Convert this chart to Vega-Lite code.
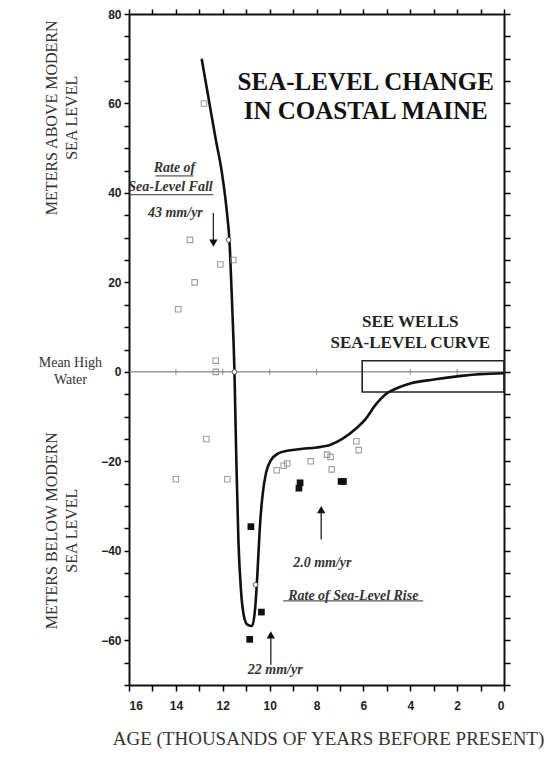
{
  "$schema": "https://vega.github.io/schema/vega-lite/v6.json",
  "width": 375,
  "height": 671,
  "autosize": "none",
  "padding": {"left": 129, "top": 14, "right": 44, "bottom": 74},
  "background": "white",
  "config": {
    "view": {"stroke": null},
    "axis": {
      "grid": false,
      "ticks": true,
      "domainColor": "#111",
      "domainWidth": 2,
      "tickColor": "#000",
      "tickWidth": 1.5,
      "tickOpacity": 1,
      "labelFont": "Liberation Sans",
      "labelFontWeight": "bold",
      "labelFontSize": 12,
      "labelColor": "#222"
    },
    "text": {"font": "Liberation Serif"}
  },
  "datasets": {
    "curve": [
      {"age": 12.9, "level": 70}, {"age": 12.6, "level": 61}, {"age": 12.3, "level": 52},
      {"age": 12.05, "level": 45}, {"age": 11.85, "level": 37}, {"age": 11.7, "level": 28},
      {"age": 11.6, "level": 15}, {"age": 11.5, "level": 0}, {"age": 11.42, "level": -20},
      {"age": 11.33, "level": -38}, {"age": 11.22, "level": -49}, {"age": 11.1, "level": -54.5},
      {"age": 10.95, "level": -56.5}, {"age": 10.75, "level": -56.8}, {"age": 10.62, "level": -53},
      {"age": 10.52, "level": -45}, {"age": 10.42, "level": -35}, {"age": 10.3, "level": -27.5},
      {"age": 10.15, "level": -22.5}, {"age": 9.95, "level": -19.8}, {"age": 9.65, "level": -18.3},
      {"age": 9.2, "level": -17.6}, {"age": 8.6, "level": -17.2}, {"age": 8.0, "level": -16.9},
      {"age": 7.4, "level": -16.3}, {"age": 6.9, "level": -15}, {"age": 6.3, "level": -12.6},
      {"age": 5.9, "level": -10.5}, {"age": 5.5, "level": -7.5}, {"age": 5.05, "level": -5},
      {"age": 4.5, "level": -3.5}, {"age": 4.0, "level": -2.6}, {"age": 3.0, "level": -1.7},
      {"age": 2.0, "level": -1.0}, {"age": 1.0, "level": -0.5}, {"age": 0, "level": -0.3}
    ],
    "open": [
      {"age": 12.8, "level": 60}, {"age": 13.4, "level": 29.5}, {"age": 12.1, "level": 24},
      {"age": 11.55, "level": 25}, {"age": 13.2, "level": 20}, {"age": 13.9, "level": 14},
      {"age": 12.3, "level": 2.5}, {"age": 12.3, "level": 0}, {"age": 12.7, "level": -15},
      {"age": 14.0, "level": -24}, {"age": 11.8, "level": -24}, {"age": 9.7, "level": -22},
      {"age": 9.4, "level": -21}, {"age": 9.25, "level": -20.5}, {"age": 8.25, "level": -20},
      {"age": 7.55, "level": -18.5}, {"age": 7.4, "level": -19}, {"age": 7.35, "level": -21.8},
      {"age": 6.3, "level": -15.5}, {"age": 6.2, "level": -17.5}
    ],
    "filled": [
      {"age": 10.8, "level": -34.6}, {"age": 10.35, "level": -53.7}, {"age": 10.85, "level": -59.8},
      {"age": 8.75, "level": -26}, {"age": 8.7, "level": -24.8}, {"age": 6.95, "level": -24.5},
      {"age": 6.85, "level": -24.5}
    ],
    "circles": [
      {"age": 11.75, "level": 29.5}, {"age": 11.5, "level": 0}, {"age": 10.6, "level": -47.6}
    ]
  },
  "resolve": {"axis": {"x": "independent", "y": "independent"}},
  "layer": [
    {
      "data": {"values": [{"level": 0}]},
      "mark": {"type": "rule", "color": "#666", "strokeWidth": 1},
      "encoding": {
        "y": {"field": "level", "type": "quantitative", "scale": {"domain": [-70, 80], "nice": false, "zero": false}, "axis": null}
      }
    },
    {
      "data": {"values": [{"age": 2, "level": 0}, {"age": 4, "level": 0}, {"age": 8, "level": 0}, {"age": 10, "level": 0}, {"age": 12, "level": 0}, {"age": 14, "level": 0}]},
      "mark": {"type": "tick", "orient": "vertical", "size": 6, "thickness": 1, "color": "#666"},
      "encoding": {
        "x": {"field": "age", "type": "quantitative", "scale": {"domain": [0, 16], "reverse": true, "nice": false, "zero": false}, "axis": null},
        "y": {"field": "level", "type": "quantitative", "scale": {"domain": [-70, 80], "nice": false, "zero": false}, "axis": null}
      }
    },
    {
      "data": {"values": [{"age": 6.05, "age2": 0, "level": 2.5, "level2": -4.5}]},
      "mark": {"type": "rect", "fill": null, "stroke": "#222", "strokeWidth": 1.6},
      "encoding": {
        "x": {"field": "age", "type": "quantitative", "scale": {"domain": [0, 16], "reverse": true, "nice": false, "zero": false}, "axis": null},
        "x2": {"field": "age2"},
        "y": {"field": "level", "type": "quantitative", "scale": {"domain": [-70, 80], "nice": false, "zero": false}, "axis": null},
        "y2": {"field": "level2"}
      }
    },
    {
      "data": {"name": "curve"},
      "mark": {"type": "line", "color": "#111", "strokeWidth": 2.6, "interpolate": "monotone"},
      "encoding": {
        "x": {
          "field": "age", "type": "quantitative",
          "scale": {"domain": [0, 16], "reverse": true, "nice": false, "zero": false},
          "axis": {
            "orient": "bottom",
            "ticks": true,
            "tickCount": 17,
            "values": [0, 1, 2, 3, 4, 5, 6, 7, 8, 9, 10, 11, 12, 13, 14, 15, 16],
            "labelExpr": "datum.value % 2 == 0 ? datum.label : ''",
            "tickSize": 6,
            "labelPadding": 9,
            "title": "AGE (THOUSANDS OF YEARS BEFORE PRESENT)",
            "titleFont": "Liberation Serif",
            "titleFontWeight": "normal",
            "titleFontSize": 19,
            "titleColor": "#333",
            "titlePadding": 18,
            "titleX": 199
          }
        },
        "y": {
          "field": "level", "type": "quantitative",
          "scale": {"domain": [-70, 80], "nice": false, "zero": false},
          "axis": {
            "orient": "left",
            "ticks": true,
            "values": [-70, -65, -60, -55, -50, -45, -40, -35, -30, -25, -20, -15, -10, -5, 0, 5, 10, 15, 20, 25, 30, 35, 40, 45, 50, 55, 60, 65, 70, 75, 80],
            "labelExpr": "datum.value % 20 == 0 ? datum.label : ''",
            "tickSize": 5,
            "labelPadding": 3,
            "title": null
          }
        }
      }
    },
    {
      "data": {"name": "open"},
      "mark": {"type": "point", "shape": "square", "filled": false, "color": "#777", "size": 30, "strokeWidth": 1.1},
      "encoding": {
        "x": {
          "field": "age", "type": "quantitative",
          "scale": {"domain": [0, 16], "reverse": true, "nice": false, "zero": false},
          "axis": {"orient": "top", "ticks": true, "values": [0, 1, 2, 3, 4, 5, 6, 7, 8, 9, 10, 11, 12, 13, 14, 15, 16], "labels": false, "tickSize": 5, "title": null}
        },
        "y": {
          "field": "level", "type": "quantitative",
          "scale": {"domain": [-70, 80], "nice": false, "zero": false},
          "axis": {"orient": "right", "ticks": true, "values": [-70, -65, -60, -55, -50, -45, -40, -35, -30, -25, -20, -15, -10, -5, 0, 5, 10, 15, 20, 25, 30, 35, 40, 45, 50, 55, 60, 65, 70, 75, 80], "labels": false, "tickSize": 6, "title": null}
        }
      }
    },
    {
      "data": {"name": "filled"},
      "mark": {"type": "point", "shape": "square", "filled": true, "color": "#111", "size": 45, "opacity": 1},
      "encoding": {
        "x": {"field": "age", "type": "quantitative", "scale": {"domain": [0, 16], "reverse": true, "nice": false, "zero": false}, "axis": null},
        "y": {"field": "level", "type": "quantitative", "scale": {"domain": [-70, 80], "nice": false, "zero": false}, "axis": null}
      }
    },
    {
      "data": {"name": "circles"},
      "mark": {"type": "point", "shape": "circle", "filled": true, "fill": "white", "stroke": "#555", "strokeWidth": 1, "size": 22, "opacity": 1},
      "encoding": {
        "x": {"field": "age", "type": "quantitative", "scale": {"domain": [0, 16], "reverse": true, "nice": false, "zero": false}, "axis": null},
        "y": {"field": "level", "type": "quantitative", "scale": {"domain": [-70, 80], "nice": false, "zero": false}, "axis": null}
      }
    },
    {
      "data": {"values": [
        {"age": 12.4, "level": 35.5, "level2": 29.5},
        {"age": 7.8, "level": -37.5, "level2": -31.5},
        {"age": 9.95, "level": -65.5, "level2": -59.5}
      ]},
      "mark": {"type": "rule", "color": "#222", "strokeWidth": 1.3},
      "encoding": {
        "x": {"field": "age", "type": "quantitative", "scale": {"domain": [0, 16], "reverse": true, "nice": false, "zero": false}, "axis": null},
        "y": {"field": "level", "type": "quantitative", "scale": {"domain": [-70, 80], "nice": false, "zero": false}, "axis": null},
        "y2": {"field": "level2"}
      }
    },
    {
      "data": {"values": [{"age": 12.4, "level": 28.8}]},
      "mark": {"type": "point", "shape": "triangle-down", "filled": true, "color": "#111", "size": 70, "opacity": 1},
      "encoding": {
        "x": {"field": "age", "type": "quantitative", "scale": {"domain": [0, 16], "reverse": true, "nice": false, "zero": false}, "axis": null},
        "y": {"field": "level", "type": "quantitative", "scale": {"domain": [-70, 80], "nice": false, "zero": false}, "axis": null}
      }
    },
    {
      "data": {"values": [{"age": 7.8, "level": -30.8}, {"age": 9.95, "level": -58.8}]},
      "mark": {"type": "point", "shape": "triangle-up", "filled": true, "color": "#111", "size": 70, "opacity": 1},
      "encoding": {
        "x": {"field": "age", "type": "quantitative", "scale": {"domain": [0, 16], "reverse": true, "nice": false, "zero": false}, "axis": null},
        "y": {"field": "level", "type": "quantitative", "scale": {"domain": [-70, 80], "nice": false, "zero": false}, "axis": null}
      }
    },
    {
      "data": {"values": [
        {"age": 14.87, "age2": 13.25, "level": 43.8},
        {"age": 16.0, "age2": 12.4, "level": 39.6},
        {"age": 9.42, "age2": 3.45, "level": -51.2}
      ]},
      "mark": {"type": "rule", "color": "#333", "strokeWidth": 1},
      "encoding": {
        "x": {"field": "age", "type": "quantitative", "scale": {"domain": [0, 16], "reverse": true, "nice": false, "zero": false}, "axis": null},
        "x2": {"field": "age2"},
        "y": {"field": "level", "type": "quantitative", "scale": {"domain": [-70, 80], "nice": false, "zero": false}, "axis": null}
      }
    },
    {
      "data": {"values": [
        {"age": 5.9, "level": 64.8, "t": "SEA-LEVEL CHANGE"},
        {"age": 5.9, "level": 58.4, "t": "IN COASTAL MAINE"}
      ]},
      "mark": {"type": "text", "fontSize": 25, "fontWeight": "bold", "color": "#111", "align": "center", "baseline": "middle"},
      "encoding": {
        "x": {"field": "age", "type": "quantitative", "scale": {"domain": [0, 16], "reverse": true, "nice": false, "zero": false}, "axis": null},
        "y": {"field": "level", "type": "quantitative", "scale": {"domain": [-70, 80], "nice": false, "zero": false}, "axis": null},
        "text": {"field": "t"}
      }
    },
    {
      "data": {"values": [
        {"age": 4.0, "level": 11.2, "t": "SEE WELLS"},
        {"age": 4.0, "level": 6.5, "t": "SEA-LEVEL CURVE"}
      ]},
      "mark": {"type": "text", "fontSize": 17, "fontWeight": "bold", "color": "#222", "align": "center", "baseline": "middle"},
      "encoding": {
        "x": {"field": "age", "type": "quantitative", "scale": {"domain": [0, 16], "reverse": true, "nice": false, "zero": false}, "axis": null},
        "y": {"field": "level", "type": "quantitative", "scale": {"domain": [-70, 80], "nice": false, "zero": false}, "axis": null},
        "text": {"field": "t"}
      }
    },
    {
      "data": {"values": [
        {"age": 14.06, "level": 45.6, "t": "Rate of"},
        {"age": 14.23, "level": 41.3, "t": "Sea-Level Fall"},
        {"age": 14.02, "level": 35.5, "t": "43 mm/yr"},
        {"age": 7.75, "level": -42.7, "t": "2.0 mm/yr"},
        {"age": 6.43, "level": -50.0, "t": "Rate of Sea-Level Rise"},
        {"age": 9.76, "level": -66.6, "t": "22 mm/yr"}
      ]},
      "mark": {"type": "text", "fontSize": 14, "fontWeight": "bold", "fontStyle": "italic", "color": "#333", "align": "center", "baseline": "middle"},
      "encoding": {
        "x": {"field": "age", "type": "quantitative", "scale": {"domain": [0, 16], "reverse": true, "nice": false, "zero": false}, "axis": null},
        "y": {"field": "level", "type": "quantitative", "scale": {"domain": [-70, 80], "nice": false, "zero": false}, "axis": null},
        "text": {"field": "t"}
      }
    },
    {
      "data": {"values": [
        {"age": 18.5, "level": 2.0, "t": "Mean High"},
        {"age": 18.5, "level": -1.8, "t": "Water"}
      ]},
      "mark": {"type": "text", "fontSize": 14, "color": "#333", "align": "center", "baseline": "middle"},
      "encoding": {
        "x": {"field": "age", "type": "quantitative", "scale": {"domain": [0, 16], "reverse": true, "nice": false, "zero": false}, "axis": null},
        "y": {"field": "level", "type": "quantitative", "scale": {"domain": [-70, 80], "nice": false, "zero": false}, "axis": null},
        "text": {"field": "t"}
      }
    },
    {
      "data": {"values": [
        {"age": 19.3, "level": 56.8, "t": "METERS ABOVE MODERN"},
        {"age": 18.45, "level": 56.8, "t": "SEA LEVEL"},
        {"age": 19.3, "level": -35.5, "t": "METERS BELOW MODERN"},
        {"age": 18.45, "level": -35.5, "t": "SEA LEVEL"}
      ]},
      "mark": {"type": "text", "fontSize": 16, "color": "#333", "align": "center", "baseline": "middle", "angle": 270},
      "encoding": {
        "x": {"field": "age", "type": "quantitative", "scale": {"domain": [0, 16], "reverse": true, "nice": false, "zero": false}, "axis": null},
        "y": {"field": "level", "type": "quantitative", "scale": {"domain": [-70, 80], "nice": false, "zero": false}, "axis": null},
        "text": {"field": "t"}
      }
    }
  ]
}
